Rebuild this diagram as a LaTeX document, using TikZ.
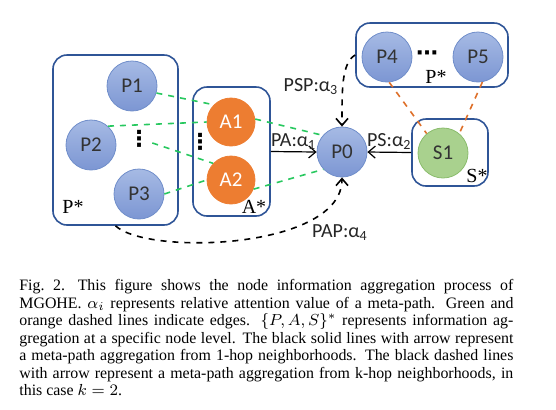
\documentclass[tikz,border=0pt]{standalone}
\usepackage{amsmath}
\usepackage{fontspec}
\setmainfont{Liberation Serif}
\newfontfamily\nodefont{Carlito}
\newfontfamily\dotsfont{DejaVu Sans}
\usetikzlibrary{positioning}
\usetikzlibrary{arrows.meta}

\definecolor{papertop}{RGB}{166,186,228}
\definecolor{paperbottom}{RGB}{124,150,211}
\definecolor{paperline}{RGB}{112,142,202}
\definecolor{boxblue}{RGB}{47,85,151}
\definecolor{authororange}{RGB}{237,125,49}
\definecolor{subjectgreen}{RGB}{169,209,142}
\definecolor{subjectline}{RGB}{138,188,108}
\definecolor{edgegreen}{RGB}{40,200,95}
\definecolor{edgeorange}{RGB}{222,112,42}

\begin{document}
\begin{tikzpicture}[x=0.5pt,y=-0.5pt,
>={Straight Barb[length=3.5pt,width=6pt]},
papernode/.style={circle, draw=paperline, top color=papertop, bottom color=paperbottom, minimum size=25pt, inner sep=0pt, font=\nodefont\fontsize{10.5}{12}\selectfont, text=black!80},
authornode/.style={circle, draw=authororange, fill=authororange, minimum size=24pt, inner sep=0pt, font=\nodefont\fontsize{10.5}{12}\selectfont, text=white},
subjectnode/.style={circle, draw=subjectline, fill=subjectgreen, minimum size=25pt, inner sep=0pt, font=\nodefont\fontsize{10.5}{12}\selectfont, text=black!80},
levelbox/.style={rectangle, rounded corners=7pt, draw=boxblue, line width=0.8pt},
levellabel/.style={font=\fontsize{10}{11}\selectfont, inner sep=0pt},
edgelabel/.style={font=\nodefont\fontsize{10}{11}\selectfont, inner sep=1pt, text=black!85},
dotslabel/.style={inner sep=0pt, font=\dotsfont\bfseries\fontsize{11}{11}\selectfont},
greenedge/.style={draw=edgegreen, dashed, line width=0.8pt},
orangeedge/.style={draw=edgeorange, dashed, line width=0.8pt},
hopedge/.style={->, black, line width=0.6pt},
khopedge/.style={->, black, dashed, line width=0.8pt},
]
\useasboundingbox (0,0) rectangle (556,409);

% Node level boxes
\node[levelbox, minimum width=62.5pt, minimum height=85pt] (paperbox) at (115.5,140) {};
\node[levelbox, minimum width=38.5pt, minimum height=64.5pt] (authorbox) at (231.5,151.5) {};
\node[levelbox, minimum width=76pt, minimum height=32pt] (paperbox2) at (432,55) {};
\node[levelbox, minimum width=38pt, minimum height=33.5pt] (subjectbox) at (450,152.5) {};

\node[levellabel] (paperstar) at (73,207) {P*};
\node[levellabel] (authorstar) at (254,207) {A*};
\node[levellabel] (paperstar2) at (436,77) {P*};
\node[levellabel] (subjectstar) at (477,176) {S*};

% Paper nodes
\node[papernode] (P1) at (132,86) {P1};
\node[papernode] (P2) at (91,145) {P2};
\node[papernode] (P3) at (139,194) {P3};
\node[papernode] (P0) at (342,152) {P0};
\node[papernode] (P4) at (387,57) {P4};
\node[papernode] (P5) at (478,57) {P5};

% Author nodes
\node[authornode] (A1) at (231,122) {A1};
\node[authornode] (A2) at (231,180) {A2};

% Subject node
\node[subjectnode] (S1) at (443,153) {S1};

% Dots
\node[dotslabel] (pdots) at (139,138.5) {⋮};
\node[dotslabel] (adots) at (200,141.5) {⋮};
\node[dotslabel] (hdots) at (427,56) {⋯};

% Edges
\draw[greenedge] (P1.-16) -- (A1.135);
\draw[greenedge] (P2.48) -- (A1.west);
\draw[greenedge, shorten <=1pt] (pdots) -- (A2.137);
\draw[greenedge] (P3.east) -- (A2.west);
\draw[greenedge] (A1.7) -- (P0.139);
\draw[greenedge] (A2.-22) -- (P0.223);
\draw[orangeedge] (P4.-85) -- (S1.130);
\draw[orangeedge] (P5.-80) -- (S1.50);

% Meta-path aggregation
\draw[hopedge] (authorbox.east) -- node[edgelabel, above] (labelPA) {PA:α\textsubscript{1}} (P0.west);
\draw[hopedge] (subjectbox.west) -- node[edgelabel, above] (labelPS) {PS:α\textsubscript{2}} (P0.east);
\draw[khopedge] (paperbox2.west) .. controls +(-14,8) and +(0,-35) .. (P0.north);
\node[edgelabel] (labelPSP) at (311,87) {PSP:α\textsubscript{3}};
\draw[khopedge] (paperbox.south) .. controls +(32,30) and +(0,72) .. (P0.south);
\node[edgelabel] (labelPAP) at (340,233) {PAP:α\textsubscript{4}};

% Caption
\node[anchor=north west, inner sep=0pt, text width=247pt, align=justify, font=\fontsize{7.95}{8.75}\selectfont] (caption) at (19,279)
{Fig.~2.\hspace{0.8em}This figure shows the node information aggregation process of\linebreak
MGOHE. $\alpha_i$ represents relative attention value of a meta-path. Green and\linebreak
orange dashed lines indicate edges. $\{P, A, S\}^*$ represents information ag-\linebreak
gregation at a specific node level. The black solid lines with arrow represent\linebreak
a meta-path aggregation from 1-hop neighborhoods. The black dashed lines\linebreak
with arrow represent a meta-path aggregation from k-hop neighborhoods, in\linebreak
this case $k=2$.};
\end{tikzpicture}
\end{document}
